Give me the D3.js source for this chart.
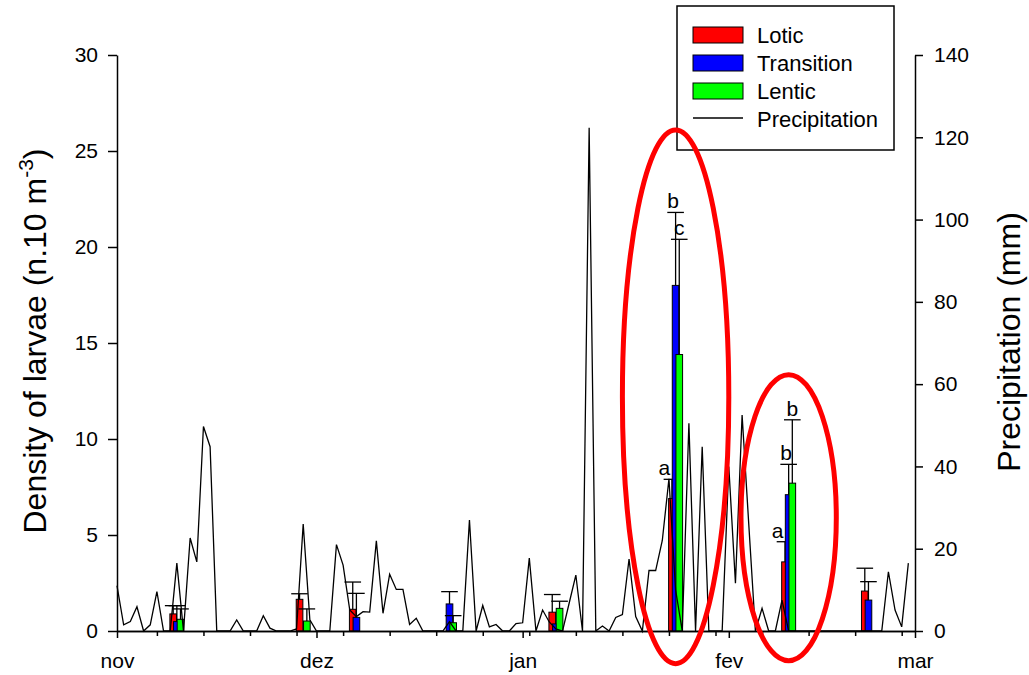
<!DOCTYPE html>
<meta charset="utf-8">
<style>
    body {
        margin: 0;
        background: #fff;
    }
    svg text {
        font-family: "Liberation Sans", Arial, sans-serif;
        fill: #000;
    }
</style>
<svg id="chart" width="1029" height="675"></svg>
<script src="https://d3js.org/d3.v7.min.js"></script>
<script>
    // sampling dates of the larvae
    const sampleDates = ["2012-11-10", "2012-11-29", "2012-12-07", "2012-12-21",
        "2013-01-06", "2013-01-24", "2013-02-10", "2013-02-22"];
    const seriesNames = ["Lotic", "Transition", "Lentic"];
    const seriesColors = ["#ff0000", "#0000ff", "#00ff00"];

    // density of larvae (n.10 m-3) and error
    const lotic = [0.89, 1.65, 1.13, 0, 0.98, 6.9, 3.6, 2.08];
    const loticErr = [0.43, 0.29, 1.42, 0, 0.92, 1.0, 1.05, 1.19];
    const transition = [0.49, 0, 0.71, 1.41, 0.37, 18.0, 7.1, 1.61];
    const transitionErr = [0.83, 0, 1.25, 0.64, 0, 3.8, 1.58, 0.96];
    const lentic = [0.61, 0.52, 0, 0.43, 1.18, 14.4, 7.7, 0];
    const lenticErr = [0.54, 0.63, 0, 0.37, 0.37, 6.0, 3.3, 0];

    // letters of the tests, by sampling index
    const letterGroups = [5, 6];
    const letters = [["a", "b", "c"], ["a", "b", "b"]];

    // daily precipitation (mm) from 1 nov
    const precipStart = "2012-11-01";
    const precipitation = [
        11, 1.5, 2.3, 5.9, 0, 1.5, 9.6, 0, 0, 16.5,
        0, 22.6, 16.8, 49.7, 44.8, 0, 0, 0, 2.7, 0,
        0, 0, 3.7, 0.7, 0, 0, 0, 0.5, 26, 2.7,
        0, 0, 0, 21, 16, 5.1, 3.5, 4.7, 4.6, 21.9,
        4.3, 13.8, 10.1, 10.1, 1.6, 3.1, 0, 0, 0, 0,
        2.3, 0, 0, 27, 0, 6.2, 1, 1.6, 0, 0,
        1.8, 2, 17.7, 0, 5.1, 2.2, 0.5, 0, 6.8, 13.6,
        0, 122.3, 0, 1.2, 0, 3.3, 4, 17.5, 3.5, 0,
        14.7, 14.7, 22, 37, 10, 0, 50.5, 0, 44.8, 0,
        0, 0, 40, 11.6, 52.5, 26, 0, 5.5, 0, 0,
        7.5, 0, 0, 0, 0, 0, 0, 0, 0, 0,
        0, 0, 0, 0, 0, 0, 14.4, 5.1, 1, 16.5
    ];

    const monthTicks = ["2012-11-01", "2012-12-01", "2013-01-01", "2013-02-01", "2013-03-01"];
    const monthLabels = ["nov", "dez", "jan", "fev", "mar"];
    const leftTicks = [0, 5, 10, 15, 20, 25, 30];
    const rightTicks = [0, 20, 40, 60, 80, 100, 120, 140];

    // highlighted samplings: centre date, centre density, half width (days), half height (density)
    const ellipseDates = ["2013-01-24", "2013-02-10"];
    const ellipseCentres = [12.2, 5.9];
    const ellipseHalfDays = [8, 7.2];
    const ellipseHalfHeights = [13.9, 7.45];

    const parse = d3.timeParse("%Y-%m-%d");
    const svg = d3.select("#chart");

    const x = d3.scaleTime()
        .domain([parse(monthTicks[0]), parse(monthTicks[monthTicks.length - 1])])
        .range([117, 915]);
    const yL = d3.scaleLinear().domain([0, 30]).range([631, 55]);
    const yR = d3.scaleLinear().domain([0, 140]).range([631, 55]);

    const dayPx = x(d3.timeDay.offset(parse(precipStart), 1)) - x(parse(precipStart));
    const barW = dayPx,
        barStep = 0.55 * dayPx,
        capW = 2.5 * dayPx;

    const means = [lotic, transition, lentic];
    const errs = [loticErr, transitionErr, lenticErr];

    // bars with their error bars, series by series
    const bars = svg.append("g");
    means.forEach((vals, s) => {
        vals.forEach((v, g) => {
            if (v <= 0) return;
            let cx = x(parse(sampleDates[g])) + (s - 1) * barStep;
            bars.append("rect")
                .attr("x", cx - barW / 2)
                .attr("y", yL(v))
                .attr("width", barW)
                .attr("height", yL(0) - yL(v))
                .attr("fill", seriesColors[s])
                .attr("stroke", "#000")
                .attr("stroke-width", 1);
            let e = errs[s][g];
            if (e > 0) {
                bars.append("line")
                    .attr("x1", cx).attr("x2", cx)
                    .attr("y1", yL(v)).attr("y2", yL(v + e))
                    .attr("stroke", "#000").attr("stroke-width", 1.3);
                bars.append("line")
                    .attr("x1", cx - capW / 2).attr("x2", cx + capW / 2)
                    .attr("y1", yL(v + e)).attr("y2", yL(v + e))
                    .attr("stroke", "#000").attr("stroke-width", 1.3);
            }
        });
    });

    // letters above the error bars
    const letterDx = [-7.5, -2.5, 0];
    letterGroups.forEach((g, k) => {
        letters[k].forEach((t, s) => {
            let cx = x(parse(sampleDates[g])) + (s - 1) * barStep;
            svg.append("text")
                .attr("x", cx + letterDx[s])
                .attr("y", yL(means[s][g] + errs[s][g]) - 4)
                .attr("text-anchor", "middle")
                .style("font-size", "21px")
                .text(t);
        });
    });

    // precipitation line
    const rain = precipitation.map((mm, i) => ({date: d3.timeDay.offset(parse(precipStart), i), mm: mm}));
    svg.append("path")
        .datum(rain)
        .attr("fill", "none")
        .attr("stroke", "#000")
        .attr("stroke-width", 1.3)
        .attr("stroke-linejoin", "miter")
        .attr("d", d3.line().x(d => x(d.date)).y(d => yR(d.mm)));

    // axes
    function styleAxis(g, size) {
        g.selectAll("path, line").attr("stroke", "#000").attr("stroke-width", 1.5);
        g.selectAll("text").style("font-size", size).attr("fill", "#000");
    }

    svg.append("g")
        .attr("transform", "translate(117,0)")
        .call(d3.axisLeft(yL).tickValues(leftTicks).tickSize(9).tickSizeOuter(0).tickPadding(10))
        .call(g => styleAxis(g, "21px"));

    svg.append("g")
        .attr("transform", "translate(915,0)")
        .call(d3.axisRight(yR).tickValues(rightTicks).tickSize(8).tickSizeOuter(0).tickPadding(11))
        .call(g => styleAxis(g, "21px"));

    const minorTicks = d3.timeDay.range(d3.timeDay.offset(parse(precipStart), 6), x.domain()[1], 7);
    svg.append("g")
        .attr("transform", "translate(0,631)")
        .call(d3.axisBottom(x).tickValues(minorTicks).tickSize(5).tickSizeOuter(0).tickFormat(""))
        .call(g => styleAxis(g, "21px"));

    svg.append("g")
        .attr("transform", "translate(0,631)")
        .call(d3.axisBottom(x).tickValues(monthTicks.map(parse)).tickSize(7).tickSizeOuter(0).tickPadding(15)
            .tickFormat((d, i) => monthLabels[i]))
        .call(g => styleAxis(g, "21px"));

    // axis titles
    const leftTitle = svg.append("text")
        .attr("transform", "translate(46,341) rotate(-90)")
        .attr("text-anchor", "middle")
        .style("font-size", "32px");
    leftTitle.append("tspan").text("Density of larvae (n.10 m");
    leftTitle.append("tspan").attr("dy", -13).style("font-size", "21px").text("-3");
    leftTitle.append("tspan").attr("dy", 13).text(")");

    svg.append("text")
        .attr("transform", "translate(1020,342) rotate(-90)")
        .attr("text-anchor", "middle")
        .style("font-size", "32px")
        .text("Precipitation (mm)");

    // legend
    const legend = svg.append("g");
    legend.append("rect")
        .attr("x", 677).attr("y", 6)
        .attr("width", 217).attr("height", 144)
        .attr("fill", "#fff")
        .attr("stroke", "#000").attr("stroke-width", 1.5);
    const legendNames = seriesNames.concat(["Precipitation"]);
    legendNames.forEach((name, i) => {
        let cy = 35 + i * 28;
        if (i < 3) {
            legend.append("rect")
                .attr("x", 693).attr("y", cy - 8)
                .attr("width", 50).attr("height", 16)
                .attr("fill", seriesColors[i])
                .attr("stroke", "#000").attr("stroke-width", 1);
        } else {
            legend.append("line")
                .attr("x1", 693).attr("x2", 743)
                .attr("y1", cy - 1).attr("y2", cy - 1)
                .attr("stroke", "#000").attr("stroke-width", 1.3);
        }
        legend.append("text")
            .attr("x", 757).attr("y", cy)
            .attr("dy", "0.36em")
            .style("font-size", "22px")
            .text(name);
    });

    // red ellipses on the highlighted samplings
    ellipseDates.forEach((d, i) => {
        let c = parse(d);
        svg.append("ellipse")
            .attr("cx", x(c))
            .attr("cy", yL(ellipseCentres[i]))
            .attr("rx", x(d3.timeHour.offset(c, ellipseHalfDays[i] * 24)) - x(c))
            .attr("ry", yL(0) - yL(ellipseHalfHeights[i]))
            .attr("fill", "none")
            .attr("stroke", "#ff0000")
            .attr("stroke-width", 5);
    });
</script>
